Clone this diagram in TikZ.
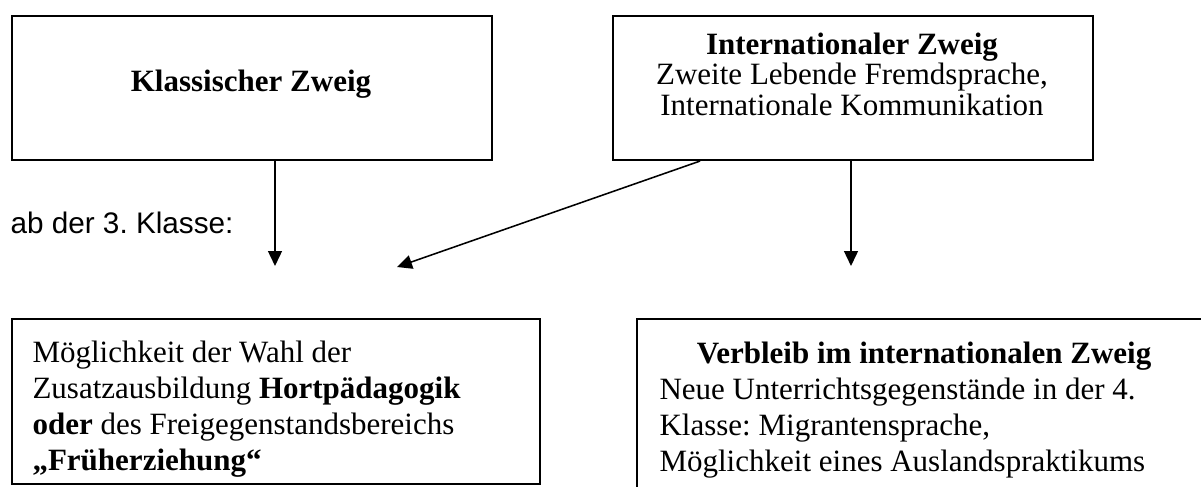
\documentclass[tikz,border=0pt]{standalone}
\usepackage{fontspec}
\setmainfont{Liberation Serif}
\newfontfamily\arialf{Liberation Sans}
\usetikzlibrary{arrows.meta}
\frenchspacing
\tikzset{
  x=0.387pt, y=-0.387pt,
  box/.style={draw, line width=0.8pt, inner sep=0pt, anchor=north west},
  txt/.style={inner sep=0pt, font=\fontsize{12pt}{14pt}\selectfont},
  arr/.style={line width=0.6pt, -{Triangle[length=5.8pt,width=5.4pt]}}
}
\begin{document}
\begin{tikzpicture}
\useasboundingbox (0,0) rectangle (1201,487);
% boxes
\node[box, minimum width=480*0.387pt, minimum height=144*0.387pt] (b1) at (11,15) {};
\node[box, minimum width=480*0.387pt, minimum height=144*0.387pt] (b2) at (612,15) {};
\node[box, minimum width=528*0.387pt, minimum height=165*0.387pt] (b3) at (11,318) {};
\node[box, minimum width=580*0.387pt, minimum height=180*0.387pt] (b4) at (636,318) {};
% texts
\node[txt, anchor=base] (t1) at (251,92) {\textbf{Klassischer Zweig}};
\node[txt, align=center, anchor=north, font=\fontsize{12pt}{11.8pt}\selectfont] (t2) at (852,32) {\textbf{Internationaler Zweig}\\Zweite Lebende Fremdsprache,\\Internationale Kommunikation};
\node[txt, align=left, anchor=north west] (t3) at (32,340) {Möglichkeit der Wahl der\\Zusatzausbildung \textbf{Hortpädagogik}\\\textbf{oder} des Freigegenstandsbereichs\\\textbf{„Früherziehung“}};
\node[txt, anchor=base] (t4a) at (924,363) {\textbf{Verbleib im internationalen Zweig}};
\node[txt, align=left, anchor=north west] (t4b) at (659,377) {Neue Unterrichtsgegenstände in der 4.\\Klasse: Migrantensprache,\\Möglichkeit eines Auslandspraktikums};
\node[txt, anchor=base west, font=\arialf\fontsize{11.5pt}{13.5pt}\selectfont] (lab) at (10,234) {ab der 3. Klasse:};
% arrow ends
\coordinate (e1) at (275,266);
\coordinate (e2) at (397,267);
\coordinate (e3) at (851,266);
\draw[arr] (b1.south west -| e1) -- (e1);
\draw[arr] ([xshift=88*0.387pt]b2.south west) -- (e2);
\draw[arr] (b2.south west -| e3) -- (e3);
\end{tikzpicture}
\end{document}
